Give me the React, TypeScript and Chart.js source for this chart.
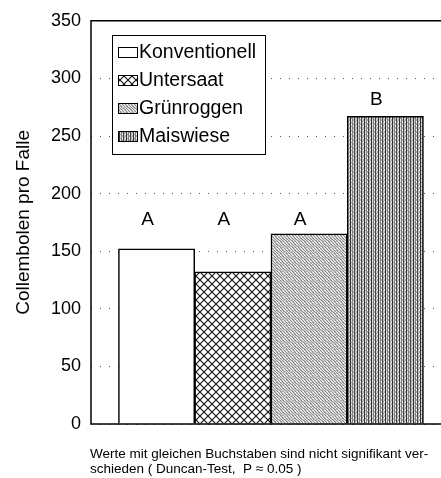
import React, { useEffect, useRef } from "react";
import { Chart, registerables } from "chart.js";

Chart.register(...registerables);

const categories = ["Konventionell", "Untersaat", "Grünroggen", "Maiswiese"];
const values = [152, 132, 165, 267];
const letters = ["A", "A", "A", "B"];
const letterLevels = [173, 173, 173, 277];
const yMin = 0;
const yMax = 350;
const yStep = 50;
const axisTitle = "Collembolen pro Falle";
const noteLines = [
  "Werte mit gleichen Buchstaben sind nicht signifikant ver-",
  "schieden ( Duncan-Test,  P \u2248 0.05 )",
];

const FONT = "'Liberation Sans', Arial, Helvetica, sans-serif";

function makeTile(w: number, h: number, draw: (c: CanvasRenderingContext2D) => void) {
  const cv = document.createElement("canvas");
  cv.width = w;
  cv.height = h;
  const c = cv.getContext("2d")!;
  draw(c);
  return cv;
}

function pixelTile(w: number, h: number, shade: (x: number, y: number) => number) {
  return makeTile(w, h, (c) => {
    const img = c.createImageData(w, h);
    for (let y = 0; y < h; y++) {
      for (let x = 0; x < w; x++) {
        const v = shade(x, y);
        const i = (y * w + x) * 4;
        img.data[i] = v;
        img.data[i + 1] = v;
        img.data[i + 2] = v;
        img.data[i + 3] = 255;
      }
    }
    c.putImageData(img, 0, 0);
  });
}

function makePatterns(ctx: CanvasRenderingContext2D) {
  const plain = "#ffffff";
  const cross = makeTile(8, 8, (c) => {
    c.fillStyle = "#fff";
    c.fillRect(0, 0, 8, 8);
    c.strokeStyle = "#111";
    c.lineWidth = 1.1;
    c.beginPath();
    c.moveTo(-1, -1);
    c.lineTo(9, 9);
    c.moveTo(9, -1);
    c.lineTo(-1, 9);
    c.stroke();
  });
  const stipple = pixelTile(6, 6, (x, y) => {
    if ((x - y + 6) % 3 === 0) return 140;
    if ((x + 2 * y) % 5 === 0) return 245;
    if ((x * 3 + y) % 4 === 0) return 165;
    return 215;
  });
  const colsV = [50, 225, 130, 240, 70, 200, 235];
  const vertical = pixelTile(7, 4, (x, y) => {
    let v = colsV[x];
    if (v > 150 && (x + y) % 3 === 0) v -= 70;
    return v;
  });
  return [
    plain,
    ctx.createPattern(cross, "repeat")!,
    ctx.createPattern(stipple, "repeat")!,
    ctx.createPattern(vertical, "repeat")!,
  ];
}

export default function App() {
  const ref = useRef<HTMLCanvasElement>(null);

  useEffect(() => {
    const canvas = ref.current!;
    const ctx = canvas.getContext("2d")!;
    const fills = makePatterns(ctx);

    const overlay = {
      id: "overlay",
      afterDatasetsDraw(chart: any) {
        const c = chart.ctx as CanvasRenderingContext2D;
        const { left, right, top, bottom } = chart.chartArea;
        const xs = chart.scales.x;
        const ys = chart.scales.y;
        c.save();
        // frame
        c.strokeStyle = "#000";
        c.lineWidth = 1.5;
        c.beginPath();
        c.moveTo(right, top);
        c.lineTo(left, top);
        c.lineTo(left, bottom);
        c.lineTo(right, bottom);
        c.stroke();

        // letters
        c.fillStyle = "#000";
        c.font = `19px ${FONT}`;
        c.textAlign = "center";
        c.textBaseline = "alphabetic";
        letters.forEach((l, i) => {
          c.fillText(l, xs.getPixelForValue(i + 1) - 9, ys.getPixelForValue(letterLevels[i]));
        });

        // legend
        const lx = 112;
        const ly = 35;
        const lw = 153;
        const lh = 119;
        c.fillStyle = "#fff";
        c.fillRect(lx, ly, lw, lh);
        c.strokeStyle = "#000";
        c.lineWidth = 1;
        c.strokeRect(lx + 0.5, ly + 0.5, lw, lh);
        c.font = `19.5px ${FONT}`;
        c.textAlign = "left";
        c.textBaseline = "middle";
        categories.forEach((name, i) => {
          const cy = 52 + i * 28;
          c.fillStyle = fills[i] as any;
          c.fillRect(118, cy - 5, 20, 11);
          c.strokeStyle = "#000";
          c.lineWidth = 1;
          c.strokeRect(118.5, cy - 4.5, 19, 10);
          c.fillStyle = "#000";
          c.fillText(name, 139, cy + 1);
        });

        // note
        c.font = `13.5px ${FONT}`;
        c.textAlign = "left";
        c.textBaseline = "alphabetic";
        noteLines.forEach((t, i) => {
          c.fillText(t, 90, 458 + i * 15);
        });
        c.restore();
      },
    };

    const chart = new Chart(canvas, {
      type: "bar",
      data: {
        datasets: [
          {
            label: "Collembolen",
            data: values.map((v, i) => ({ x: i + 1, y: v })),
            backgroundColor: fills as any,
            borderColor: "#000",
            borderWidth: 1.5,
            barPercentage: 1,
            categoryPercentage: 1,
          },
        ],
      },
      options: {
        animation: false,
        responsive: false,
        maintainAspectRatio: false,
        layout: { padding: { top: 15, right: 0, bottom: 54, left: 0 } },
        plugins: {
          legend: { display: false },
          tooltip: { enabled: false },
        },
        scales: {
          x: {
            type: "linear",
            min: 0.14,
            max: 4.73,
            offset: false,
            display: false,
            grid: { display: false },
            afterBuildTicks: (s: any) => {
              s.ticks = categories.map((_, i) => ({ value: i + 1 }));
            },
          },
          y: {
            min: yMin,
            max: yMax,
            afterFit: (s: any) => {
              s.width = 91;
            },
            ticks: {
              stepSize: yStep,
              color: "#000",
              padding: 10,
              font: { family: FONT, size: 18 },
            },
            grid: { color: "#555", lineWidth: 1, drawTicks: false },
            border: { display: false, dash: [1, 8] },
            title: {
              display: true,
              text: axisTitle,
              color: "#000",
              font: { family: FONT, size: 19 },
              padding: { top: 12, bottom: 0 },
            },
          },
        },
      },
      plugins: [overlay],
    });
    return () => chart.destroy();
  }, []);

  return (
    <div style={{ position: "fixed", left: 0, top: 0, width: 441, height: 478, background: "#fff" }}>
      <canvas ref={ref} width={441} height={478} style={{ width: 441, height: 478, display: "block" }} />
    </div>
  );
}
